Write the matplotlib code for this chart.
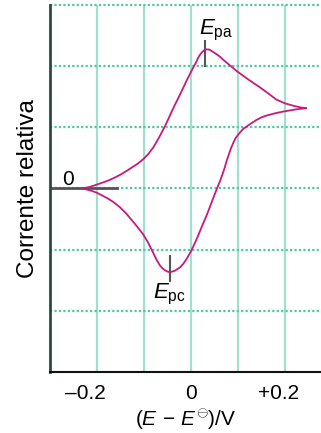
import matplotlib
matplotlib.use('Agg')
import matplotlib.pyplot as plt
import matplotlib.transforms as mtransforms

plt.rcParams['font.family'] = ['Liberation Sans', 'DejaVu Sans']
plt.rcParams['mathtext.fontset'] = 'custom'
plt.rcParams['mathtext.rm'] = 'Liberation Sans'
plt.rcParams['mathtext.it'] = 'Liberation Sans:italic'

# varredura direta (anódica), E - E0 em V, corrente relativa
E_fwd = [-0.232, -0.217, -0.201, -0.188, -0.177, -0.164, -0.151, -0.138, -0.126,
         -0.114, -0.101, -0.091, -0.080, -0.068, -0.055, -0.046, -0.037, -0.026,
         -0.016, -0.008, 0.000, 0.006, 0.011, 0.015, 0.019, 0.023, 0.027, 0.031,
         0.034, 0.038, 0.043, 0.049, 0.055, 0.062, 0.069, 0.083, 0.097, 0.122,
         0.147, 0.165, 0.182, 0.200, 0.218, 0.232, 0.245]
I_fwd = [0.00, 0.02, 0.06, 0.095, 0.125, 0.17, 0.22, 0.28, 0.34,
         0.40, 0.48, 0.56, 0.67, 0.83, 1.02, 1.17, 1.32, 1.49,
         1.65, 1.78, 1.90, 1.99, 2.06, 2.13, 2.18, 2.22, 2.25, 2.27,
         2.27, 2.27, 2.25, 2.22, 2.19, 2.15, 2.10, 2.01, 1.92, 1.78,
         1.65, 1.55, 1.45, 1.39, 1.35, 1.325, 1.31]

# varredura reversa (catódica)
E_rev = [0.245, 0.234, 0.223, 0.212, 0.200, 0.181, 0.161, 0.150, 0.140, 0.126,
         0.111, 0.101, 0.095, 0.090, 0.085, 0.081, 0.076, 0.072, 0.064, 0.055,
         0.044, 0.033, 0.024, 0.016, 0.008, 0.000, -0.009, -0.016, -0.023, -0.029,
         -0.034, -0.040, -0.045, -0.050, -0.055, -0.060, -0.066, -0.073, -0.080,
         -0.091, -0.101, -0.114, -0.126, -0.138, -0.151, -0.164, -0.176, -0.188,
         -0.201, -0.210, -0.219, -0.232]
I_rev = [1.31, 1.30, 1.29, 1.275, 1.26, 1.23, 1.19, 1.16, 1.12, 1.05,
         0.97, 0.88, 0.82, 0.74, 0.65, 0.56, 0.45, 0.34, 0.16, -0.01,
         -0.23, -0.45, -0.61, -0.76, -0.90, -1.03, -1.15, -1.23, -1.29, -1.32,
         -1.345, -1.36, -1.37, -1.36, -1.34, -1.31, -1.26, -1.17, -1.06,
         -0.89, -0.76, -0.63, -0.52, -0.41, -0.31, -0.23, -0.17, -0.12,
         -0.07, -0.045, -0.025, 0.00]

xticks = [-0.2, 0.0, 0.2]
xticklabels = ['\u20130.2', '0', '+0.2']
xgrid = [-0.2, -0.1, 0.0, 0.1, 0.2]
ygrid = [-2, -1, 0, 1, 2, 3]

# picos
Epa = 0.030
Epc = -0.045

fig = plt.figure(figsize=(3.21, 4.33), dpi=100)
ax = fig.add_axes([0.156, 0.141, 0.844, 0.848])

ax.set_xlim(-0.3, 0.277)
ax.set_ylim(-3, 3)

# grade: verticais contínuas, horizontais pontilhadas
for xv in xgrid:
    ax.axvline(xv, color='#9fe0cf', lw=1.6, zorder=0)
for yv in ygrid:
    ax.axhline(yv, color='#4fc7a3', lw=1.6, ls=(0, (1, 1)), zorder=0, clip_on=False)

# linha do zero
ax.plot([-0.3, -0.157], [0, 0], color='#555555', lw=2.0, zorder=1)

ax.plot(E_fwd, I_fwd, color='#c8197f', lw=1.3, zorder=3)
ax.plot(E_rev, I_rev, color='#c8197f', lw=1.3, zorder=3)

# marcas dos picos
ax.plot([Epa, Epa], [2.0, 2.41], color='#555555', lw=1.5, zorder=2)
ax.plot([Epc, Epc], [-1.10, -1.51], color='#555555', lw=1.5, zorder=2)

ax.text(0.017, 2.52, r'$E_{\mathrm{pa}}$', fontsize=16, ha='left', va='baseline')
ax.text(-0.081, -1.80, r'$E_{\mathrm{pc}}$', fontsize=16, ha='left', va='baseline')
ax.text(-0.261, 0.05, '0', fontsize=15, ha='center', va='baseline')

ax.spines['top'].set_visible(False)
ax.spines['right'].set_visible(False)
ax.spines['left'].set_color('#2d4a42')
ax.spines['left'].set_linewidth(2.0)
ax.spines['bottom'].set_color('#111111')
ax.spines['bottom'].set_linewidth(1.5)

ax.set_yticks([])
ax.set_xticks(xticks)
ax.set_xticklabels(xticklabels)
ax.tick_params(axis='x', length=0, labelsize=15, pad=9)

# deslocar um pouco os rótulos como no original
shifts = [-12, 0, -6]
for lab, dx in zip(ax.get_xticklabels(), shifts):
    off = mtransforms.ScaledTranslation(dx / 100.0, 0, fig.dpi_scale_trans)
    lab.set_transform(lab.get_transform() + off)

ax.set_xlabel(r'$(E\,-\,E^{\ominus})/\mathrm{V}$', fontsize=15, labelpad=3)
ax.set_ylabel('Corrente relativa', fontsize=17.5, labelpad=8)

plt.savefig('out.png', dpi=100)
